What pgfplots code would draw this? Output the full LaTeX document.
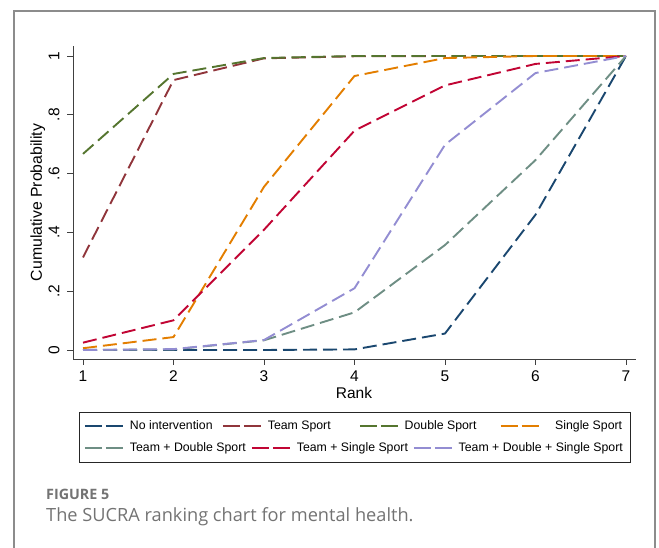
\documentclass[border=0pt]{standalone}
\usepackage{pgfplots}
\pgfplotsset{compat=1.18}
\usepackage{fontspec}
\setmainfont{Liberation Sans}
\newfontfamily\capfont{Open Sans}

\definecolor{snavy}{RGB}{26,71,111}
\definecolor{smaroon}{RGB}{144,53,59}
\definecolor{sforest}{RGB}{85,117,47}
\definecolor{sorange}{RGB}{227,126,0}
\definecolor{steal}{RGB}{110,142,132}
\definecolor{scran}{RGB}{193,5,52}
\definecolor{slav}{RGB}{147,141,210}

\pgfplotsset{
  sser/.style={line width=1.9pt, dash pattern=on 14pt off 6pt, line join=round},
  common/.style={
    at={(73pt,189pt)}, anchor=south west,
    scale only axis, width=563pt, height=313pt,
    xmin=0.8895, xmax=7.1105, ymin=-0.0306, ymax=1.034,
    legend columns=4,
    legend image code/.code={\draw[##1, dash pattern=on 17pt off 4pt] (0pt,0pt) -- (38pt,0pt);},
    legend cell align=left,
  },
  lstyle/.style={draw=none, fill=none, inner sep=0pt, outer sep=0pt,
    at={(axis description cs:0.0196,#1)}, anchor=west,
    font=\fontsize{12.3}{15}\selectfont, nodes={inner sep=0pt},
    /tikz/every odd column/.style={column sep=6pt},
    /tikz/every even column/.style={column sep=0pt}},
}

\begin{document}
\begin{tikzpicture}[x=1pt,y=1pt]
\useasboundingbox (0,0) rectangle (659,548);
\draw[color=black!45, line width=2pt] (14,-10) -- (14,537) -- (655,537) -- (655,-10);

\begin{axis}[common,
  axis lines*=left,
  axis line style={line width=0.8pt, color=black!75},
  tick align=outside, major tick length=6pt,
  tick style={line width=0.8pt, color=black!75},
  xtick={1,2,3,4,5,6,7},
  ytick={0,0.2,0.4,0.6,0.8,1},
  yticklabels={0,.2,.4,.6,.8,1},
  /pgf/number format/assume math mode=true,
  tick label style={font=\fontsize{15.5}{18}\selectfont},
  yticklabel style={rotate=90, anchor=south},
  yticklabel shift=4pt,
  xticklabel shift=2pt,
  xticklabel style={anchor=north},
  xlabel={Rank}, ylabel={Cumulative Probability},
  every axis x label/.style={at={(axis description cs:0.499,-0.1086)}, anchor=center, font=\fontsize{15.5}{18}\selectfont},
  every axis y label/.style={at={(axis description cs:-0.0625,0.5)}, rotate=90, anchor=center, font=\fontsize{15.8}{18}\selectfont},
  legend style={lstyle=-0.2141},
]
\addplot[sser, snavy] coordinates {(1,0) (2,0) (3,0) (4,0.002) (5,0.056) (6,0.46) (7,1)};
\addlegendentry{\makebox[92pt][l]{No intervention}}
\addplot[sser, smaroon] coordinates {(1,0.315) (2,0.918) (3,0.992) (4,0.999) (5,1) (6,1) (7,1)};
\addlegendentry{\makebox[91pt][l]{Team Sport}}
\addplot[sser, sforest] coordinates {(1,0.667) (2,0.939) (3,0.993) (4,1) (5,1) (6,1) (7,1)};
\addlegendentry{\makebox[95pt][l]{Double Sport}}
\addplot[sser, sorange] coordinates {(1,0.006) (2,0.044) (3,0.555) (4,0.932) (5,0.993) (6,1) (7,1)};
\addlegendentry{\hspace{9.5pt}Single Sport}
\addplot[sser, steal, forget plot] coordinates {(1,0) (2,0.002) (3,0.033) (4,0.128) (5,0.357) (6,0.646) (7,1)};
\addplot[sser, scran, forget plot] coordinates {(1,0.025) (2,0.101) (3,0.409) (4,0.746) (5,0.90) (6,0.973) (7,1)};
\addplot[sser, slav, forget plot] coordinates {(1,0) (2,0.003) (3,0.034) (4,0.21) (5,0.698) (6,0.942) (7,1)};
\end{axis}

\begin{axis}[common, hide axis, legend style={lstyle=-0.2843}]
\addlegendimage{sser, steal}
\addlegendentry{\makebox[121pt][l]{Team + Double Sport}}
\addlegendimage{sser, scran}
\addlegendentry{\makebox[116pt][l]{Team + Single Sport}}
\addlegendimage{sser, slav}
\addlegendentry{Team + Double + Single Sport}
\end{axis}

\draw[black!85, line width=0.9pt] (79,136) rectangle (630,86);

\node[anchor=base west, inner sep=0pt, font=\capfont\bfseries\fontsize{14.3}{16}\selectfont, text=black!55] at (46,48) {FIGURE 5};
\node[anchor=base west, inner sep=0pt, font=\capfont\fontsize{18.2}{21}\selectfont, text=black!55] at (46,26) {The SUCRA ranking chart for mental health.};
\end{tikzpicture}
\end{document}
